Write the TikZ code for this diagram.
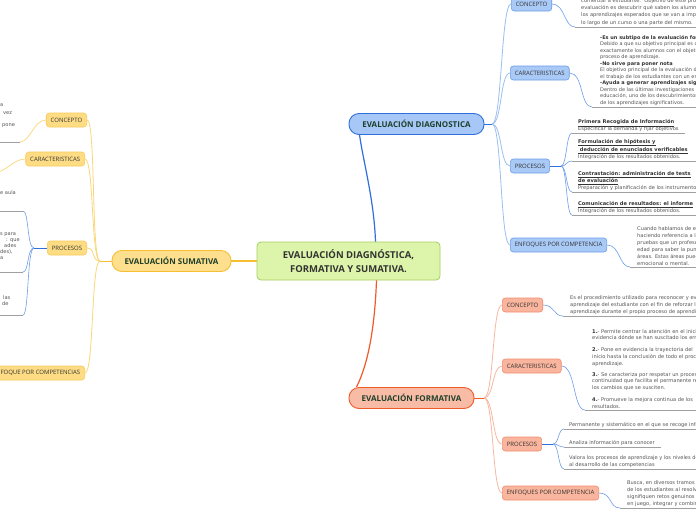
\documentclass[tikz,border=0pt]{standalone}
\usepackage{fontspec}
\setmainfont{Open Sans}
\newfontfamily\descfont{DejaVu Sans}
\usetikzlibrary{calc}
\definecolor{cgreen}{HTML}{DDF5AA}
\definecolor{cgreenb}{HTML}{A5CF5E}
\definecolor{ctext}{HTML}{333333}
\definecolor{mtext}{HTML}{1E3F2A}
\definecolor{yfill}{HTML}{FEDF8E}
\definecolor{yborder}{HTML}{F6BE33}
\definecolor{ychf}{HTML}{FDDC84}
\definecolor{ychb}{HTML}{F9CB5C}
\definecolor{ytrunk}{HTML}{FBD777}
\definecolor{bfill}{HTML}{A7C8F7}
\definecolor{bborder}{HTML}{2F6FDB}
\definecolor{bchf}{HTML}{A9C9F6}
\definecolor{bchb}{HTML}{6C9EE6}
\definecolor{btrunk}{HTML}{9BBFF0}
\definecolor{bconc}{HTML}{6D9EE8}
\definecolor{sfill}{HTML}{F8BCA6}
\definecolor{sborder}{HTML}{F05A29}
\definecolor{schf}{HTML}{F9B59D}
\definecolor{schb}{HTML}{F28D6E}
\definecolor{strunk}{HTML}{F7B8A2}
\definecolor{ulc}{HTML}{A0A0A0}
\definecolor{descc}{HTML}{555555}
\definecolor{boldc}{HTML}{333333}
\begin{document}
\begin{tikzpicture}[x=1pt,y=-1pt,
  centralnode/.style={draw=cgreenb, fill=cgreen, line width=0.8pt, rounded corners=4pt,
    minimum width=183pt, minimum height=38pt, inner sep=0pt, align=center, text=ctext,
    font=\bfseries\fontsize{9.5}{14}\selectfont},
  mainnode/.style={draw, line width=0.9pt, rounded corners=10pt, minimum height=21pt,
    inner sep=0pt, text=mtext, font=\bfseries\fontsize{8}{9}\selectfont},
  childnode/.style={draw, line width=0.6pt, rounded corners=3pt, minimum height=14pt,
    inner xsep=4.5pt, inner ysep=0pt, text=ctext, font=\fontsize{6}{6}\selectfont},
  ychild/.style={childnode, fill=ychf, draw=ychb},
  bchild/.style={childnode, fill=bchf, draw=bchb},
  schild/.style={childnode, fill=schf, draw=schb},
  desc/.style={align=left, inner sep=0pt, text=descc, font=\descfont\fontsize{5.1}{7}\selectfont},
  uline/.style={draw=ulc, line width=0.6pt},
  bcon/.style={draw=bconc, line width=0.6pt},
  bstub/.style={draw=bborder, line width=1pt},
  ycon/.style={draw=ytrunk, line width=0.7pt},
  btr/.style={draw=btrunk, line width=0.8pt},
  str/.style={draw=strunk, line width=0.8pt},
  ytr/.style={draw=ytrunk, line width=0.8pt}
]
\useasboundingbox (0,0) rectangle (696,520);
\clip (0,0) rectangle (696,520);
\fill[white] (0,0) rectangle (696,520);

% ---------- main nodes ----------
\node[centralnode] (central) at (348.5,261) {EVALUACIÓN DIAGNÓSTICA,\\FORMATIVA Y SUMATIVA.};
\node[mainnode, draw=yborder, fill=yfill, minimum width=119pt] (sm) at (171.5,261) {EVALUACIÓN SUMATIVA};
\node[mainnode, draw=bborder, fill=bfill, minimum width=135pt] (dm) at (416.5,124) {EVALUACIÓN DIAGNOSTICA};
\node[mainnode, draw=sborder, fill=sfill, minimum width=125pt] (fm) at (411.5,398) {EVALUACIÓN FORMATIVA};

\coordinate (cn) at ($(central.north)+(27,0)$);
\coordinate (cs) at ($(central.south)+(28,0)$);
\coordinate (dmin) at ($(dm.south)+(-57,0)$);
\coordinate (fmin) at ($(fm.north)+(-55,0)$);
\draw[draw=bborder, line width=1.2pt] (cn) .. controls (374,200) and (364,165) .. (dmin);
\draw[draw=sborder, line width=1.2pt] (cs) .. controls (375,320) and (370,360) .. (fmin);
\draw[draw=yborder, line width=1.2pt] (central.west) -- (sm.east);

% ---------- Sumativa children ----------
\node[ychild, anchor=east] (sc) at (87,120) {CONCEPTO};
\node[ychild, anchor=east] (sk) at (85,159) {CARACTERISTICAS};
\node[ychild, anchor=east] (sp) at (87,248) {PROCESOS};
\node[ychild, anchor=east] (se) at (85,373) {ENFOQUE POR COMPETENCIAS};
\coordinate (sj) at (100,261);
\draw[draw=yborder, line width=1pt] (sm.west) -- (sj);
\foreach \c in {sc,sk,sp,se}{
  \draw[ytr] (sj) .. controls +(-9,0) and +(9,0) .. (\c.east);
}
% sumativa concept
\coordinate (scl) at (20,142);
\coordinate (scl0) at (-5,142);
\draw[ycon] (sc.west) .. controls +(-12,0) and +(10,0) .. (scl);
\draw[uline] (scl0) -- (scl);
\node[desc, anchor=base west] (sf1) at (0,106) {a};
\node[desc, anchor=base west] (sf2) at (3,114) {vez};
\node[desc, anchor=base west] (sf3) at (2,126) {pone};
% sumativa caracteristicas
\coordinate (skl) at (-4,172);
\draw[ycon] (sk.west) .. controls +(-12,0) and +(10,0) .. (skl);
% sumativa procesos
\coordinate (spj) at (34,248);
\draw[bstub] (sp.west) -- (spj);
\coordinate (sp1) at (23,211);
\coordinate (sp2) at (23,272);
\coordinate (sp3) at (23,315);
\foreach \c in {sp1,sp2,sp3}{
  \draw[bcon] (spj) .. controls +(-7,0) and +(6,0) .. (\c);
  \draw[uline] (\c) -- ++(-30,0);
}
\node[desc, anchor=base west] (sf4) at (0,194) {e aula};
\node[desc, anchor=base west] (sf5) at (0,235) {s para};
\node[desc, anchor=base west] (sf6) at (6,241) {: que};
\node[desc, anchor=base west] (sf7) at (4,247) {ades};
\node[desc, anchor=base west] (sf8) at (0,253) {des),};
\node[desc, anchor=base west] (sf9) at (0,259) {a};
\node[desc, anchor=base west] (sf10) at (3,299) {las};
\node[desc, anchor=base west] (sf11) at (2,305) {de};

% ---------- Diagnostica children ----------
\node[bchild, anchor=west] (dc) at (511,4) {CONCEPTO};
\node[bchild, anchor=west] (dk) at (510,73) {CARACTERISTICAS};
\node[bchild, anchor=west] (dp) at (510,166) {PROCESOS};
\node[bchild, anchor=west] (de) at (510,245) {ENFOQUES POR COMPETENCIA};
\coordinate (dj) at (492,124);
\draw[draw=bborder, line width=1pt] (dm.east) -- (dj);
\foreach \c in {dc,dk,dp,de}{
  \draw[btr] (dj) .. controls +(10,0) and +(-10,0) .. (\c.west);
}
% concepto
\coordinate (dcl) at (575,27);
\draw[bcon] (dc.east) .. controls +(13,0) and +(-11,0) .. (dcl);
\draw[uline] (dcl) -- ++(140,0);
\node[desc, anchor=south west, font=\descfont\fontsize{5.1}{7.3}\selectfont] (dct) at (581,25.5) {comenzar a estudiarse.\ \ Objetivo de este proceso de\\evaluación es descubrir qué saben los alumnos sobre\\los aprendizajes esperados que se van a impartir a\\lo largo de un curso o una parte del mismo.};
% caracteristicas
\coordinate (dkl) at (592,107);
\draw[bcon] (dk.east) .. controls +(14,0) and +(-12,0) .. (dkl);
\draw[uline] (dkl) -- ++(120,0);
\node[desc, anchor=south west, font=\descfont\fontsize{5}{6.5}\selectfont] (dkt) at (600,105.5) {{\color{boldc}\bfseries -Es un subtipo de la evaluación formativa}\\Debido a que su objetivo principal es conocer\\exactamente los alumnos con el objetivo de mejorar el\\proceso de aprendizaje.\\{\color{boldc}\bfseries -No sirve para poner nota}\\El objetivo principal de la evaluación diagnóstica es\\el trabajo de los estudiantes con un enfoque\\{\color{boldc}\bfseries -Ayuda a generar aprendizajes significativos}\\Dentro de las últimas investigaciones en\\educación, uno de los descubrimientos más\\de los aprendizajes significativos.};
% procesos
\coordinate (dpj) at (561,166);
\draw[bstub] (dp.east) -- (dpj);
\coordinate (dp1) at (572,133);
\coordinate (dp2) at (572,161);
\coordinate (dp3) at (572,192);
\coordinate (dp4) at (572,215);
\foreach \c in {dp1,dp2,dp3,dp4}{
  \draw[bcon] (dpj) .. controls +(6,0) and +(-6,0) .. (\c);
}
\draw[uline] (dp1) -- ++(113,0);
\draw[uline] (dp2) -- ++(130,0);
\draw[uline] (dp3) -- ++(130,0);
\draw[uline] (dp4) -- ++(130,0);
\node[desc, anchor=south west] (dpt1) at (578,131.5) {{\color{boldc}\bfseries\underline{Primera Recogida de Información}}\\Especificar la demanda y fijar objetivos};
\node[desc, anchor=south west] (dpt2) at (578,159.5) {{\color{boldc}\bfseries\underline{Formulación de hipótesis y}}\\{\color{boldc}\bfseries\underline{ deducción de enunciados verificables}}\\Integración de los resultados obtenidos.};
\node[desc, anchor=south west] (dpt3) at (578,190.5) {{\color{boldc}\bfseries\underline{Contrastación: administración de tests}}\\{\color{boldc}\bfseries\underline{de evaluación}}\\Preparación y planificación de los instrumentos};
\node[desc, anchor=south west] (dpt4) at (578,213.5) {{\color{boldc}\bfseries\underline{Comunicación de resultados: el informe}}\\Integración de los resultados obtenidos.};
% enfoques
\coordinate (del) at (630,267);
\draw[bcon] (de.east) .. controls +(13,0) and +(-11,0) .. (del);
\draw[uline] (del) -- ++(80,0);
\node[desc, anchor=south west, font=\descfont\fontsize{5.1}{6.9}\selectfont] (det) at (637,265.5) {Cuando hablamos de evaluación\\haciendo referencia a las\\pruebas que un profesor\\edad para saber la puntuación\\áreas. Estas áreas pueden\\emocional o mental.};

% ---------- Formativa children ----------
\node[schild, anchor=west] (fc) at (502,305) {CONCEPTO};
\node[schild, anchor=west] (fk) at (502,366) {CARACTERISTICAS};
\node[schild, anchor=west] (fp) at (502,444) {PROCESOS};
\node[schild, anchor=west] (fe) at (502,493) {ENFOQUES POR COMPETENCIA};
\coordinate (fj) at (484,398);
\draw[draw=sborder, line width=1pt] (fm.east) -- (fj);
\foreach \c in {fc,fk,fp,fe}{
  \draw[str] (fj) .. controls +(10,0) and +(-10,0) .. (\c.west);
}
% concepto
\coordinate (fcl) at (563,316);
\draw[bcon] (fc.east) .. controls +(12,0) and +(-10,0) .. (fcl);
\draw[uline] (fcl) -- ++(140,0);
\node[desc, anchor=south west] (fct) at (570,314.5) {Es el procedimiento utilizado para reconocer y evaluar el\\aprendizaje del estudiante con el fin de reforzar los\\aprendizaje durante el propio proceso de aprendizaje.};
% caracteristicas
\coordinate (fkl) at (585,410);
\draw[bcon] (fk.east) .. controls +(14,0) and +(-12,0) .. (fkl);
\draw[uline] (fkl) -- ++(120,0);
\node[desc, anchor=south west, font=\descfont\fontsize{5.1}{6.8}\selectfont] (fkt) at (592,408.5) {{\color{boldc}\bfseries 1.}- Permite centrar la atención en el inicio\\evidencia dónde se han suscitado los errores\\[5pt]{\color{boldc}\bfseries 2.}- Pone en evidencia la trayectoria del\\inicio hasta la conclusión de todo el proceso\\aprendizaje.\\[4pt]{\color{boldc}\bfseries 3.}- Se caracteriza por respetar un proceso de\\continuidad que facilita el permanente registro\\los cambios que se susciten.\\[5pt]{\color{boldc}\bfseries 4.}- Promueve la mejora continua de los\\resultados.};
% procesos
\coordinate (fpj) at (553,444);
\draw[bstub] (fp.east) -- (fpj);
\coordinate (fp1) at (564,429);
\coordinate (fp2) at (564,447);
\coordinate (fp3) at (564,469);
\foreach \c in {fp1,fp2,fp3}{
  \draw[bcon] (fpj) .. controls +(6,0) and +(-6,0) .. (\c);
}
\draw[uline] (fp1) -- ++(140,0);
\draw[uline] (fp2) -- (661,447);
\draw[uline] (fp3) -- ++(140,0);
\node[desc, anchor=south west] (fpt1) at (569,427.5) {Permanente y sistemático en el que se recoge información};
\node[desc, anchor=south west] (fpt2) at (569,445.5) {Analiza información para conocer};
\node[desc, anchor=south west] (fpt3) at (569,467.5) {Valora los procesos de aprendizaje y los niveles de logro\\al desarrollo de las competencias};
% enfoques
\coordinate (fel) at (620,508);
\draw[bcon] (fe.east) .. controls +(13,0) and +(-11,0) .. (fel);
\draw[uline] (fel) -- ++(90,0);
\node[desc, anchor=south west] (fet) at (627,506.5) {Busca, en diversos tramos\\de los estudiantes al resolver\\signifiquen retos genuinos\\en juego, integrar y combinar};
\end{tikzpicture}
\end{document}
